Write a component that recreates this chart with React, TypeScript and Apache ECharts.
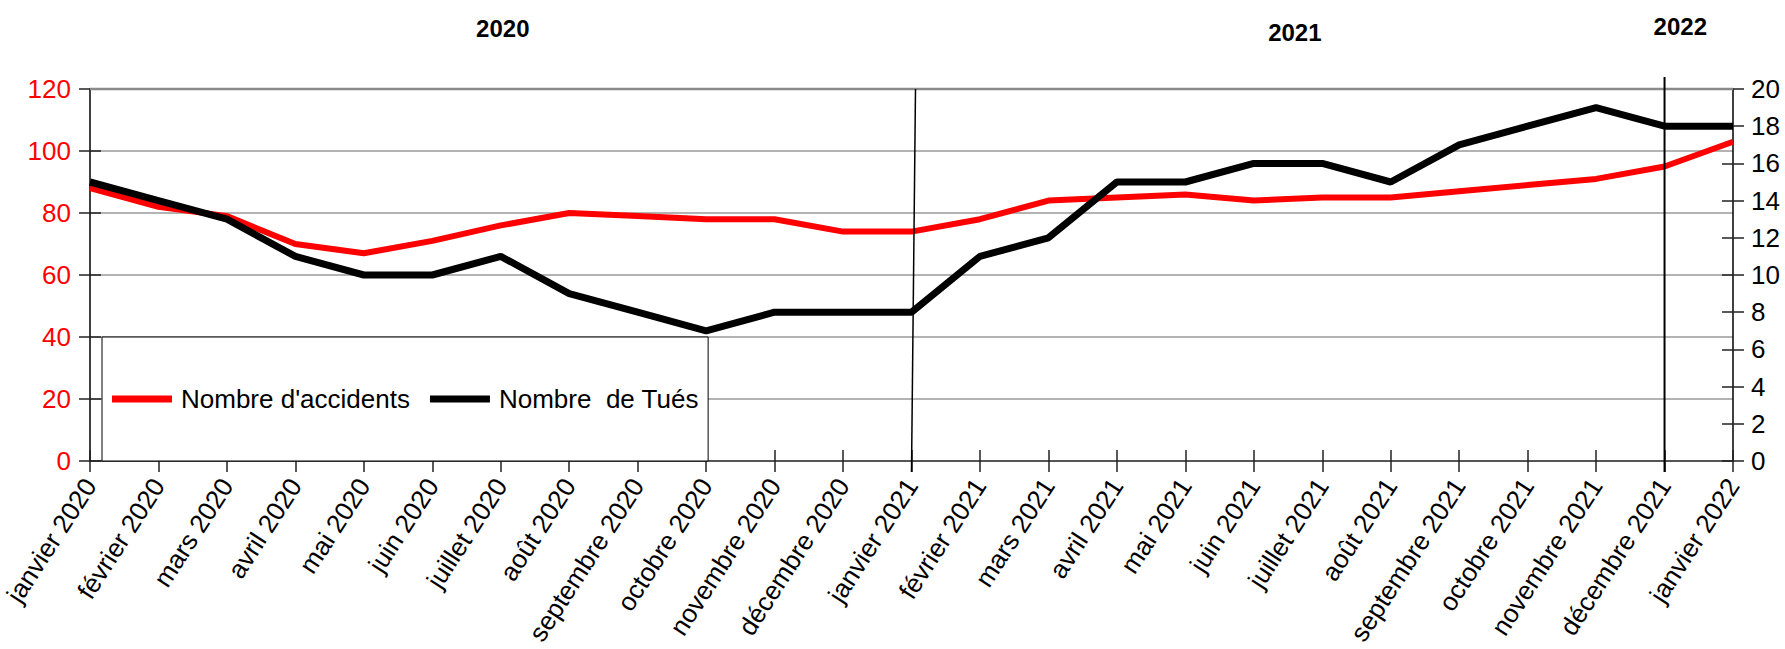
import React, { useEffect, useRef } from 'react';
import * as echarts from 'echarts';

const months = [
  'janvier 2020', 'février 2020', 'mars 2020', 'avril 2020', 'mai 2020', 'juin 2020',
  'juillet 2020', 'août 2020', 'septembre 2020', 'octobre 2020', 'novembre 2020', 'décembre 2020',
  'janvier 2021', 'février 2021', 'mars 2021', 'avril 2021', 'mai 2021', 'juin 2021',
  'juillet 2021', 'août 2021', 'septembre 2021', 'octobre 2021', 'novembre 2021', 'décembre 2021',
  'janvier 2022',
];
const accidents = [88, 82, 79, 70, 67, 71, 76, 80, 79, 78, 78, 74, 74, 78, 84, 85, 86, 84, 85, 85, 87, 89, 91, 95, 103];
const tues = [15, 14, 13, 11, 10, 10, 11, 9, 8, 7, 8, 8, 8, 11, 12, 15, 15, 16, 16, 15, 17, 18, 19, 18, 18];
const seriesNames = ["Nombre d'accidents", 'Nombre  de Tués'];
const leftAxis = { min: 0, max: 120, interval: 20 };
const rightAxis = { min: 0, max: 20, interval: 2 };
const yearLabels = ['2020', '2021', '2022'];
const separatorMonths = ['janvier 2021', 'décembre 2021'];

const FONT = '"Liberation Sans", Arial, sans-serif';
const FS = 26;

export default function App() {
  const ref = useRef<HTMLDivElement>(null);
  useEffect(() => {
    if (!ref.current) return;
    const chart = echarts.init(ref.current, null, { renderer: 'svg' });
    const tickColor = '#222';
    const option: any = {
      animation: false,
      backgroundColor: '#fff',
      textStyle: { fontFamily: FONT },
      grid: { left: 90, right: 52, top: 89, bottom: 188, containLabel: false, outerBoundsMode: 'none' },
      legend: {
        data: seriesNames,
        left: 112,
        top: 384,
        padding: 0,
        icon: 'rect',
        itemWidth: 60,
        itemHeight: 7,
        itemGap: 20,
        z: 10,
        textStyle: { fontSize: FS, color: '#000', fontFamily: FONT, lineHeight: 30, padding: [0, 0, 0, 4] },
      },
      xAxis: [
        {
          type: 'category',
          data: months,
          boundaryGap: false,
          position: 'bottom',
          axisLine: { show: true, lineStyle: { color: '#555', width: 2 } },
          axisTick: { show: true, inside: false, length: 11, interval: 0, lineStyle: { color: tickColor, width: 1.5 } },
          axisLabel: { interval: 0, rotate: 57, fontSize: FS, color: '#000', margin: 20, fontFamily: FONT },
          splitLine: { show: false },
        },
        {
          type: 'category',
          data: months,
          boundaryGap: false,
          position: 'bottom',
          axisLine: { show: false },
          axisTick: { show: true, inside: true, length: 11, interval: 0, lineStyle: { color: tickColor, width: 1.5 } },
          axisLabel: { show: false },
          splitLine: { show: false },
        },
      ],
      yAxis: [
        {
          type: 'value',
          position: 'left',
          ...leftAxis,
          axisLine: { show: true, lineStyle: { color: '#000', width: 1.5 } },
          axisTick: { show: true, inside: false, length: 11, lineStyle: { color: tickColor, width: 1.5 } },
          axisLabel: { fontSize: FS, color: '#ff0000', margin: 19, fontFamily: FONT },
          splitLine: { show: true, lineStyle: { color: '#9a9a9a', width: 1.5 } },
        },
        {
          type: 'value',
          position: 'right',
          ...rightAxis,
          axisLine: { show: true, lineStyle: { color: '#000', width: 1.5 } },
          axisTick: { show: true, inside: false, length: 11, lineStyle: { color: tickColor, width: 1.5 } },
          axisLabel: { fontSize: FS, color: '#000', margin: 18, fontFamily: FONT },
          splitLine: { show: false },
        },
        {
          type: 'value',
          position: 'left',
          ...leftAxis,
          axisLine: { show: false },
          axisTick: { show: true, inside: true, length: 11, lineStyle: { color: tickColor, width: 1.5 } },
          axisLabel: { show: false },
          splitLine: { show: false },
        },
        {
          type: 'value',
          position: 'right',
          ...rightAxis,
          axisLine: { show: false },
          axisTick: { show: true, inside: true, length: 11, lineStyle: { color: tickColor, width: 1.5 } },
          axisLabel: { show: false },
          splitLine: { show: false },
        },
      ],
      series: [
        {
          name: seriesNames[0],
          type: 'line',
          data: accidents,
          yAxisIndex: 0,
          showSymbol: false,
          symbol: 'none',
          lineStyle: { color: '#ff0000', width: 6 },
          itemStyle: { color: '#ff0000' },
          z: 3,
        },
        {
          name: seriesNames[1],
          type: 'line',
          data: tues,
          yAxisIndex: 1,
          showSymbol: false,
          symbol: 'none',
          lineStyle: { color: '#000', width: 7 },
          itemStyle: { color: '#000' },
          z: 4,
        },
      ],
    };
    chart.setOption(option);

    // Decorations positioned from the axes
    const xOf = (m: string) => chart.convertToPixel({ xAxisIndex: 0 }, m) as number;
    const yOf = (v: number) => chart.convertToPixel({ yAxisIndex: 0 }, v) as number;
    const yTop = yOf(leftAxis.max);
    const yBottom = yOf(leftAxis.min);
    const x0 = xOf(months[0]);
    const xSep1 = xOf(separatorMonths[0]);
    const xSep2 = xOf(separatorMonths[1]);
    const y40 = yOf(40);
    const xBoxRight = xOf('octobre 2020');
    const dx = xOf(months[1]) - x0;

    chart.setOption({
      graphic: [
        {
          id: 'legendBox',
          type: 'rect',
          z: 5,
          shape: { x: x0 + 12, y: y40, width: xBoxRight - x0 - 12 + 2, height: yBottom - y40 },
          style: { fill: '#fff', stroke: '#000', lineWidth: 1 },
        },
        {
          id: 'sep1',
          type: 'line',
          z: 6,
          shape: { x1: xSep1 + 4, y1: yTop, x2: xSep1, y2: yBottom + 11 },
          style: { stroke: '#000', lineWidth: 1.5 },
        },
        {
          id: 'sep2',
          type: 'line',
          z: 6,
          shape: { x1: xSep2, y1: yTop - 12, x2: xSep2, y2: yBottom + 11 },
          style: { stroke: '#000', lineWidth: 2 },
        },
        {
          id: 'topLine',
          type: 'line',
          z: 1,
          shape: { x1: x0, y1: yTop, x2: xOf(months[months.length - 1]), y2: yTop },
          style: { stroke: '#8a8a8a', lineWidth: 2.5 },
        },
        {
          id: 'y2020',
          type: 'text',
          z: 6,
          x: x0 + dx * 6.03,
          y: 28,
          style: { text: yearLabels[0], font: `bold 24px ${FONT}`, fill: '#000', align: 'center', verticalAlign: 'middle' },
        },
        {
          id: 'y2021',
          type: 'text',
          z: 6,
          x: x0 + dx * 17.6,
          y: 32,
          style: { text: yearLabels[1], font: `bold 24px ${FONT}`, fill: '#000', align: 'center', verticalAlign: 'middle' },
        },
        {
          id: 'y2022',
          type: 'text',
          z: 6,
          x: x0 + dx * 23.23,
          y: 26,
          style: { text: yearLabels[2], font: `bold 24px ${FONT}`, fill: '#000', align: 'center', verticalAlign: 'middle' },
        },
      ],
    });

    return () => chart.dispose();
  }, []);

  return (
    <div
      ref={ref}
      style={{ position: 'fixed', left: 0, top: 0, width: 1785, height: 649, background: '#fff', whiteSpace: 'pre' }}
    />
  );
}
